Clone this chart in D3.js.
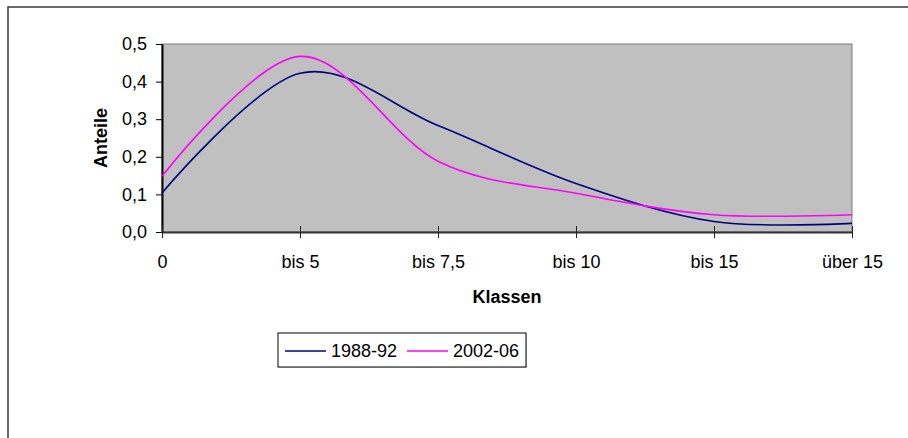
<!doctype html>
<html>
<head>
<meta charset="utf-8">
<style>
    body { margin: 0; background: #fff; }
    text { font-family: Arial, "Liberation Sans", sans-serif; fill: #000; }
</style>
<script src="https://d3js.org/d3.v7.min.js"></script>
</head>
<body>
<svg width="908" height="438"></svg>
<script>
    // Klassen und Anteile
    var categories = ["0", "bis 5", "bis 7,5", "bis 10", "bis 15", "über 15"];
    var series1988 = [0.104, 0.422, 0.283, 0.129, 0.028, 0.023];
    var series2002 = [0.148, 0.467, 0.188, 0.103, 0.046, 0.046];
    var seriesNames = ["1988-92", "2002-06"];
    var yTicks = [0, 0.1, 0.2, 0.3, 0.4, 0.5];

    var svg = d3.select("svg"),
        plotLeft = 162, plotRight = 852, plotTop = 44, plotBottom = 232;

    // outer chart frame (runs off the page on right and bottom)
    svg.append("rect")
       .attr("x", 8).attr("y", 7)
       .attr("width", 1000).attr("height", 600)
       .attr("fill", "#fff")
       .attr("stroke", "#3a3a3a")
       .attr("stroke-width", 1.5);

    var x = d3.scalePoint().domain(categories).range([plotLeft, plotRight]),
        y = d3.scaleLinear().domain([0, 0.5]).range([plotBottom, plotTop]);

    var de = d3.formatLocale({decimal: ",", thousands: ".", grouping: [3], currency: ["", "€"]});

    // plot area
    svg.append("rect")
       .attr("x", plotLeft).attr("y", plotTop)
       .attr("width", plotRight - plotLeft).attr("height", plotBottom - plotTop)
       .attr("fill", "#c0c0c0")
       .attr("stroke", "#7a7a7a")
       .attr("stroke-width", 1);

    var yAxis = svg.append("g")
       .attr("transform", "translate(" + plotLeft + ",0)")
       .call(d3.axisLeft(y).tickValues(yTicks).tickFormat(de.format(".1f"))
               .tickSizeInner(6).tickSizeOuter(0).tickPadding(9));
    yAxis.select(".domain").attr("stroke", "#000").attr("stroke-width", 2);
    yAxis.selectAll("line").attr("stroke", "#000");
    yAxis.selectAll("text").attr("font-size", "18px").attr("fill", "#000");

    var xAxis = svg.append("g")
       .attr("transform", "translate(0," + plotBottom + ")")
       .call(d3.axisBottom(x).tickSizeInner(6).tickSizeOuter(0).tickPadding(17));
    xAxis.select(".domain").attr("stroke", "#333").attr("stroke-width", 2);
    xAxis.selectAll(".tick line").attr("y1", -6).attr("y2", 6).attr("stroke", "#222");
    xAxis.selectAll("text").attr("font-size", "18px").attr("fill", "#000");

    var line = d3.line()
        .x(function(d, i) { return x(categories[i]); })
        .y(function(d) { return y(d); })
        .curve(d3.curveCardinal.tension(0));

    var colors = ["#000080", "#ff00ff"];

    [series1988, series2002].forEach(function(s, k) {
        svg.append("path")
           .datum(s)
           .attr("d", line)
           .attr("fill", "none")
           .attr("stroke", colors[k])
           .attr("stroke-width", 1.6);
    });

    svg.append("text")
       .attr("x", (plotLeft + plotRight) / 2)
       .attr("y", 303)
       .attr("text-anchor", "middle")
       .attr("font-size", "18px")
       .attr("font-weight", "bold")
       .text("Klassen");

    svg.append("text")
       .attr("transform", "translate(107," + (plotTop + plotBottom) / 2 + ") rotate(-90)")
       .attr("text-anchor", "middle")
       .attr("font-size", "18px")
       .attr("font-weight", "bold")
       .text("Anteile");

    // legend
    var lg = svg.append("g").attr("transform", "translate(278,333)");
    lg.append("rect")
      .attr("x", 1).attr("y", 1).attr("width", 248).attr("height", 34)
      .attr("fill", "#d8d8d8");
    lg.append("rect")
      .attr("width", 248).attr("height", 34)
      .attr("fill", "#fff").attr("stroke", "#000").attr("stroke-width", 1);

    var legX = [7, 129];
    seriesNames.forEach(function(name, k) {
        lg.append("line")
          .attr("x1", legX[k]).attr("x2", legX[k] + 41)
          .attr("y1", 18).attr("y2", 18)
          .attr("stroke", colors[k]).attr("stroke-width", 1.6);
        lg.append("text")
          .attr("x", legX[k] + 46)
          .attr("y", 24)
          .attr("font-size", "18px")
          .text(name);
    });
</script>
</body>
</html>
